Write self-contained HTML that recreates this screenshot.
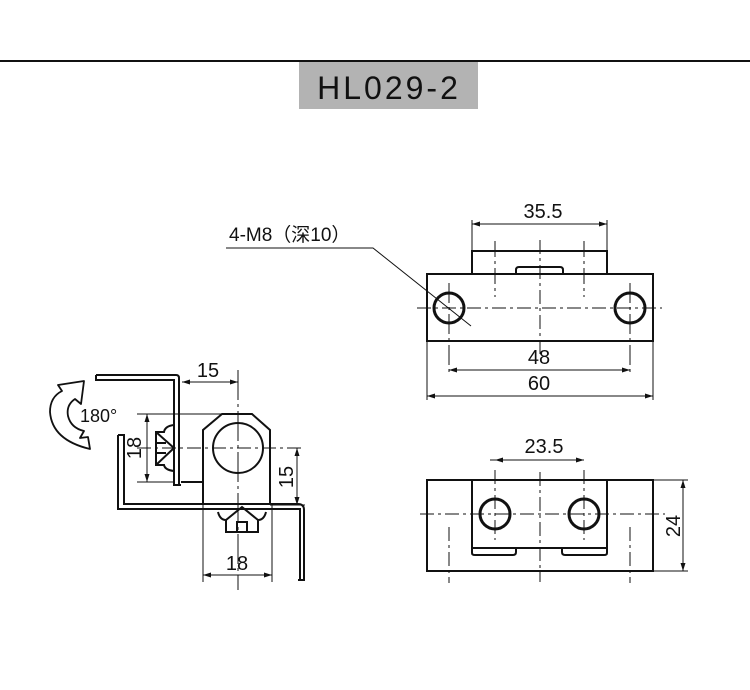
<!DOCTYPE html>
<html><head><meta charset="utf-8"><style>
html,body{margin:0;padding:0;background:#fff;width:750px;height:690px;overflow:hidden}
svg{display:block}
text{font-family:"Liberation Sans","Noto Sans CJK SC",sans-serif;fill:#111}
</style></head><body>
<svg width="750" height="690" viewBox="0 0 750 690" xmlns="http://www.w3.org/2000/svg">
<line x1="0" y1="61" x2="750" y2="61" stroke="#111" stroke-width="2"/>
<rect x="299" y="62" width="179" height="47" fill="#b3b3b3"/>
<text x="389" y="99" font-size="32" text-anchor="middle" letter-spacing="3" font-family="DejaVu Sans, sans-serif">HL029-2</text>

<g fill="none" stroke="#111" stroke-width="2">
<rect x="427" y="274" width="226" height="67"/>
<path d="M472 274 V251 H607 V274"/>
<path d="M516 274 V270 Q516 267 519 267 H560 Q563 267 563 270 V274"/>
<circle cx="449" cy="308" r="15" stroke-width="3"/>
<circle cx="630" cy="308" r="15" stroke-width="3"/>
<rect x="427" y="480" width="226" height="91"/>
<path d="M472 480 V548 H607 V480"/>
<path d="M472 548 V553 Q472 555 475 555 H513 Q516 555 516 552 V548"/>
<path d="M562 548 V552 Q562 555 565 555 H604 Q607 555 607 553 V548"/>
<circle cx="495" cy="514" r="15" stroke-width="3"/>
<circle cx="584" cy="514" r="15" stroke-width="3"/>
<path d="M96 375 H176 Q179 375 179 378 V485"/>
<path d="M96 375 V380 H174 V485 H181"/>
<path d="M118 435 V509 H300 V580"/>
<path d="M118 435 H124 V504 H298 Q304 504 304 510 V580 H298"/>
<path d="M181 482 H203"/>
<path d="M203 505 V430 L222 414 H252 L270 430 V505"/>
<circle cx="238" cy="448" r="25"/>
</g>
<g fill="none" stroke="#111" stroke-width="2">
<path d="M174 425 Q165 426 164 432 L156 432 V465 L164 465 Q165 470 174 471"/>
<path d="M156 432 L174 448 L156 465 M156 443 H166 M156 453 H166"/>
<path d="M218 512 Q220 520 226 520 V532 H258 V520 Q264 520 266 512"/>
<path d="M226 520 L242 507 L258 520 M237 532 V522 H247 V532"/>
</g>

<g stroke="#111" stroke-width="1" fill="none">
<path d="M417 308 H662" stroke-dasharray="14 4 3 4"/>
<path d="M540 240 V356" stroke-dasharray="14 4 3 4"/>
<path d="M495 241 V297 M584 241 V297" stroke-dasharray="16 4 3 4"/>
<path d="M449 283 V374 M630 283 V374" stroke-dasharray="20 4 3 4"/>
<path d="M420 514 H665" stroke-dasharray="14 4 3 4"/>
<path d="M540 472 V582" stroke-dasharray="14 4 3 4"/>
<path d="M495 470 V540 M584 470 V540" stroke-dasharray="14 4 3 4"/>
<path d="M449 527 V583 M630 527 V583" stroke-dasharray="14 4 3 4"/>
<path d="M137 448 H305" stroke-dasharray="14 4 3 4"/>
<path d="M238 370 V590" stroke-dasharray="30 4 3 4"/>
<path d="M472 220 V251 M607 220 V251 M472 224 H607"/>
<path d="M427 341 V400 M653 341 V400 M449 370 H630 M427 396 H653"/>
<path d="M226 248 H373 L471 326"/>
<path d="M490 460 H584 M653 480 H688 M653 571 H688 M683 480 V571"/>
<path d="M182 382 H238"/>
<path d="M137 414 H225 M137 482 H175 M147 414 V482"/>
<path d="M270 505 H305 M297 448 V505"/>
<path d="M203 505 V582 M272 505 V582 M203 575 H272"/>
</g>
<g fill="#111">
<path d="M472 224 l8 -2.5 v5z M607 224 l-8 -2.5 v5z"/>
<path d="M449 370 l8 -2.5 v5z M630 370 l-8 -2.5 v5z"/>
<path d="M427 396 l8 -2.5 v5z M653 396 l-8 -2.5 v5z"/>
<path d="M495 460 l8 -2.5 v5z M584 460 l-8 -2.5 v5z"/>
<path d="M683 480 l-2.5 8 h5z M683 571 l-2.5 -8 h5z"/>
<path d="M182 382 l8 -2.5 v5z M238 382 l-8 -2.5 v5z"/>
<path d="M147 414 l-2.5 8 h5z M147 482 l-2.5 -8 h5z"/>
<path d="M297 448 l-2.5 8 h5z M297 505 l-2.5 -8 h5z"/>
<path d="M203 575 l8 -2.5 v5z M272 575 l-8 -2.5 v5z"/>
</g>
<path d="M90 449 Q52 440 50 412 Q50 397 62 391 L58 385 L84 381 L81 404 L75 399 Q66 405 68 416 Q71 428 84 431 L80 438 L88 437 Z" fill="#fff" stroke="#111" stroke-width="1.8" stroke-linejoin="round"/>
<text x="80" y="422" font-size="18">180°</text>

<text x="543" y="218" font-size="20" text-anchor="middle">35.5</text>
<text x="229" y="241" font-size="19">4-M8（深10）</text>
<text x="539" y="364" font-size="20" text-anchor="middle">48</text>
<text x="539" y="390" font-size="20" text-anchor="middle">60</text>
<text x="544" y="453" font-size="20" text-anchor="middle">23.5</text>
<text x="0" y="0" font-size="20" text-anchor="middle" transform="translate(680 526) rotate(-90)">24</text>
<text x="208" y="377" font-size="20" text-anchor="middle">15</text>
<text x="0" y="0" font-size="20" text-anchor="middle" transform="translate(141 448) rotate(-90)">18</text>
<text x="0" y="0" font-size="20" text-anchor="middle" transform="translate(293 477) rotate(-90)">15</text>
<text x="237" y="570" font-size="20" text-anchor="middle">18</text>
</svg>
</body></html>
